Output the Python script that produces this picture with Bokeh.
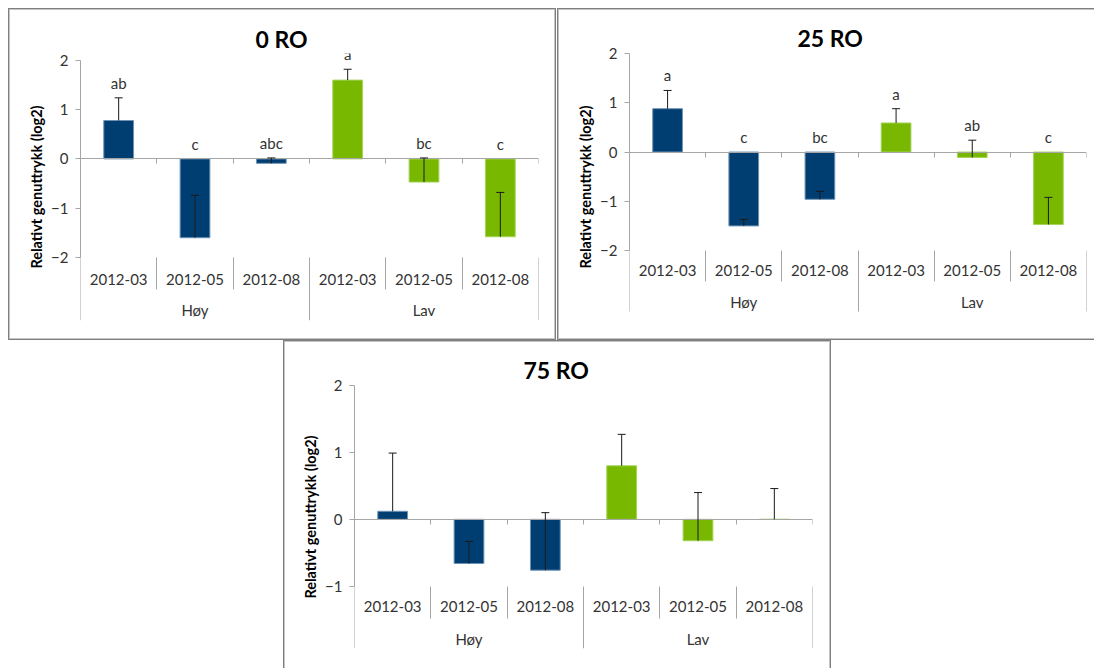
from bokeh.embed import file_html
from bokeh.resources import INLINE
from bokeh.plotting import figure
from bokeh.layouts import column, row
from bokeh.core.properties import value
from bokeh.models import (ColumnDataSource, FactorRange, Range1d, LinearAxis, CategoricalAxis,
                          FixedTicker, Whisker, TeeHead, LabelSet, Spacer)

# Kategorier
grupper = ["Høy", "Lav"]
kategorier = ["2012-03", "2012-05", "2012-08"]

# 0 RO
ro0_verdi = [0.78, -1.60, -0.09, 1.60, -0.47, -1.58]
ro0_feil = [0.46, 0.86, 0.11, 0.22, 0.49, 0.90]
ro0_bokstav = ["ab", "c", "abc", "a", "bc", "c"]

# 25 RO
ro25_verdi = [0.88, -1.50, -0.96, 0.59, -0.11, -1.47]
ro25_feil = [0.37, 0.13, 0.16, 0.29, 0.35, 0.55]
ro25_bokstav = ["a", "c", "bc", "a", "ab", "c"]

# 75 RO
ro75_verdi = [0.12, -0.66, -0.76, 0.80, -0.32, 0.00]
ro75_feil = [0.87, 0.33, 0.86, 0.47, 0.72, 0.46]
ro75_bokstav = None

y_ticks_0 = [-2, -1, 0, 1, 2]
y_ticks_75 = [-1, 0, 1, 2]

BLAA = "#003E71"
BLAA_KANT = "#6f93b6"
GROENN = "#78B800"
GROENN_KANT = "#a6d35a"
AKSE = "#a6a6a6"
TEKST = "#333333"
FONT = "Lato"
SMAA = "15px"
RAMME = "#7f7f7f"
RAMME_LYS = "#c4c4c4"


def skjult_akse(akse):
    akse.major_label_text_color = None
    akse.minor_tick_line_color = None
    akse.major_tick_in = 0


def lag_panel(tittel, verdier, feil, bokstaver, yticks, y_omr, w, h, kanter,
              tittel_offset, tittel_standoff, skille_inner, skille_gruppe,
              kat_standoff, grp_standoff, skygge):
    faktorer = [(g, k) for g in grupper for k in kategorier]
    n = len(faktorer)
    xr = FactorRange(*faktorer, range_padding=0, factor_padding=0, group_padding=0)
    p = figure(x_range=xr, y_range=Range1d(*y_omr), width=w, height=h,
               output_backend="svg", toolbar_location=None, tools="",
               min_border_left=kanter[0], min_border_right=kanter[1],
               min_border_top=kanter[2], min_border_bottom=kanter[3],
               x_axis_location=None)
    p.border_fill_color = None
    p.background_fill_color = None
    p.outline_line_color = None
    p.grid.visible = False
    p.styles = {"box-shadow": skygge}

    # y-akse
    ya = p.yaxis[0]
    ya.ticker = FixedTicker(ticks=yticks)
    ya.bounds = (yticks[0], yticks[-1])
    ya.axis_line_color = AKSE
    ya.major_tick_line_color = AKSE
    ya.major_tick_out = 5
    ya.major_tick_in = 0
    ya.minor_tick_line_color = None
    ya.major_label_standoff = 7
    ya.major_label_text_font = FONT
    ya.major_label_text_font_size = SMAA
    ya.major_label_text_color = TEKST
    ya.axis_label = "Relativt genuttrykk (log2)"
    ya.axis_label_text_font = FONT
    ya.axis_label_text_font_size = "14.5px"
    ya.axis_label_text_font_style = "bold"
    ya.axis_label_text_color = "#000000"
    ya.axis_label_standoff = 3

    # nullinje med tikker mellom kategoriene
    null = LinearAxis(fixed_location=0, ticker=FixedTicker(ticks=list(range(1, n + 1))))
    skjult_akse(null)
    null.axis_line_color = AKSE
    null.major_tick_line_color = AKSE
    null.major_tick_out = 5
    p.add_layout(null, "below")

    # skillelinjer under diagrammet
    grense = [i for i in range(1, n) if i % len(kategorier) != 0]
    gruppegrense = [i for i in range(0, n + 1) if i % len(kategorier) == 0]
    for ticks, lengde in ((grense, skille_inner), (gruppegrense, skille_gruppe)):
        s = LinearAxis(fixed_location=yticks[0], ticker=FixedTicker(ticks=ticks))
        skjult_akse(s)
        s.axis_line_color = None
        s.major_tick_line_color = AKSE
        s.major_tick_out = lengde
        p.add_layout(s, "below")

    # kategorietiketter
    ka = CategoricalAxis(fixed_location=yticks[0])
    ka.axis_line_color = None
    ka.major_tick_line_color = None
    ka.major_tick_out = 0
    ka.major_tick_in = 0
    ka.separator_line_color = None
    ka.major_label_standoff = kat_standoff
    ka.major_label_text_font = FONT
    ka.major_label_text_font_size = SMAA
    ka.major_label_text_color = TEKST
    ka.group_text_color = None
    p.add_layout(ka, "below")

    # gruppeetiketter
    ga = CategoricalAxis(fixed_location=yticks[0])
    ga.axis_line_color = None
    ga.major_tick_line_color = None
    ga.major_tick_out = 0
    ga.major_tick_in = 0
    ga.separator_line_color = None
    ga.major_label_standoff = grp_standoff
    ga.major_label_text_font = FONT
    ga.major_label_text_font_size = SMAA
    ga.major_label_text_color = None
    ga.group_text_font = FONT
    ga.group_text_font_size = SMAA
    ga.group_text_font_style = "normal"
    ga.group_text_color = TEKST
    p.add_layout(ga, "below")

    farger = [BLAA] * len(kategorier) + [GROENN] * len(kategorier)
    kanter_f = [BLAA_KANT] * len(kategorier) + [GROENN_KANT] * len(kategorier)
    src = ColumnDataSource(dict(
        x=faktorer, verdi=verdier, farge=farger, kant=kanter_f,
        ovre=[v + e for v, e in zip(verdier, feil)],
        etikett_y=[max(v + e, 0) for v, e in zip(verdier, feil)],
        bokstav=bokstaver if bokstaver else [""] * n,
    ))
    p.vbar(x="x", top="verdi", bottom=0, width=0.39, source=src,
           fill_color="farge", line_color="kant", line_width=1)

    p.add_layout(Whisker(source=src, base="x", lower="verdi", upper="ovre",
                         dimension="height", line_color="#1a1a1a", line_width=1,
                         upper_head=TeeHead(size=8, line_color="#1a1a1a", line_width=1),
                         lower_head=None, level="overlay"))

    if bokstaver:
        p.add_layout(LabelSet(source=src, x="x", y="etikett_y", text="bokstav",
                              text_align="center", text_baseline="bottom", y_offset=6,
                              text_font=value(FONT), text_font_size=value(SMAA),
                              text_color=TEKST))

    p.title.text = tittel
    p.title.align = "left"
    p.title.offset = tittel_offset
    p.title.standoff = tittel_standoff
    p.title.text_font = FONT
    p.title.text_font_size = "23px"
    p.title.text_font_style = "bold"
    p.title.text_color = "#000000"
    return p


skygge_alle = f"inset 0 0 0 1px {RAMME}, inset 0 0 0 2px {RAMME_LYS}"
skygge_uten_hoyre = (f"inset 1px 0 0 {RAMME}, inset 0 1px 0 {RAMME}, inset 0 -1px 0 {RAMME}, "
                     f"inset 2px 0 0 {RAMME_LYS}, inset 0 2px 0 {RAMME_LYS}, inset 0 -2px 0 {RAMME_LYS}")
skygge_uten_bunn = (f"inset 1px 0 0 {RAMME}, inset 0 1px 0 {RAMME}, inset -1px 0 0 {RAMME}, "
                    f"inset 2px 0 0 {RAMME_LYS}, inset 0 2px 0 {RAMME_LYS}, inset -2px 0 0 {RAMME_LYS}")

p1 = lag_panel("0 RO", ro0_verdi, ro0_feil, ro0_bokstav, y_ticks_0, (-3.28, 2.14), 548, 332,
               (72, 18, 45, 20), 175, 2, 32, 63, 17, 44, skygge_alle)
p2 = lag_panel("25 RO", ro25_verdi, ro25_feil, ro25_bokstav, y_ticks_0, (-3.42, 2.0), 537, 332,
               (72, 8, 45, 20), 168, 4, 31, 61, 14, 42, skygge_uten_hoyre)
p3 = lag_panel("75 RO", ro75_verdi, ro75_feil, ro75_bokstav, y_ticks_75, (-1.93, 2.0), 548, 328,
               (71, 19, 45, 20), 169, 3, 32, 62, 15, 44, skygge_uten_bunn)

side = column(Spacer(width=8, height=8),
              row(Spacer(width=8, height=332), p1, Spacer(width=1, height=332), p2),
              row(Spacer(width=283, height=328), p3))

open("out.html", "w").write(file_html(side, INLINE))
